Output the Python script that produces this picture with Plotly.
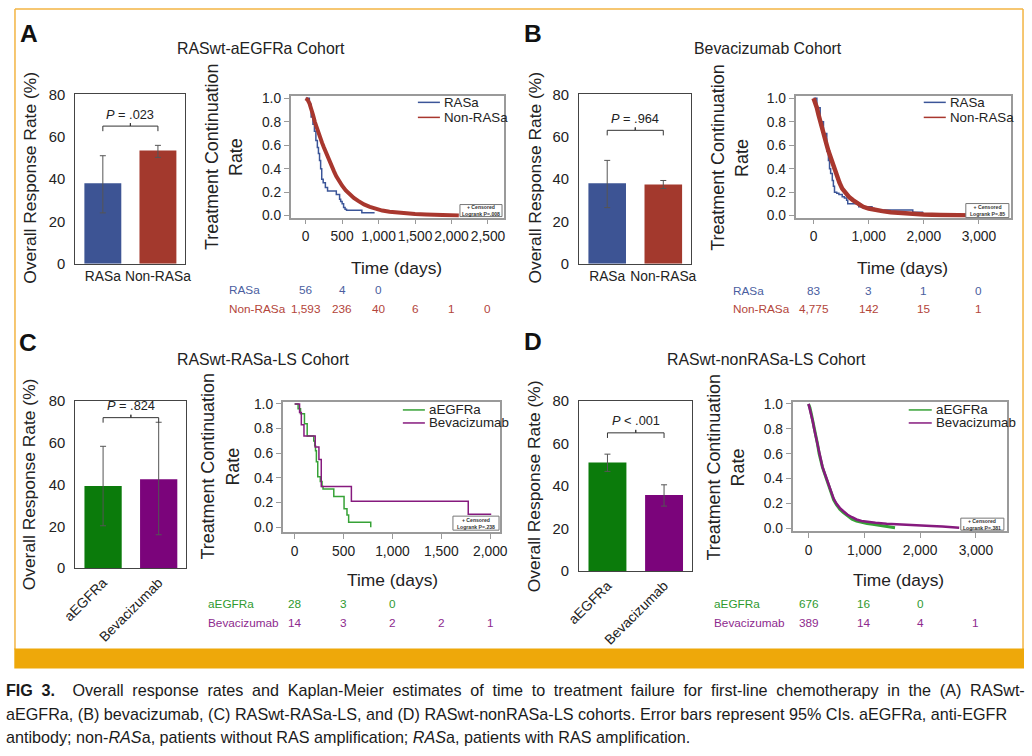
import plotly.graph_objects as go

# Positions below are given in pixels of the final 1032x756 picture.
# The rendered page shows the figure shifted by the 8px body margin and scaled
# slightly, so pixel positions are mapped back through that transform.
FW, FH = 1032, 756
MARGIN = 8
S = 0.977
DX, DY = 7.0, 0.0
FONT = "Liberation Sans, Arial, sans-serif"


def X(p):
    return ((p - DX) / S - MARGIN) / FW


def Y(p):
    return 1 - ((p - DY) / S - MARGIN) / FH


def clampx(v):
    return min(max(v, 1.0 / FW), 1 - 1.0 / FW)


def clampy(v):
    return min(max(v, 1.0 / FH), 1 - 1.0 / FH)


def fs(size):
    return round(size / S, 2)


# ====================== DATA ======================
# ---- Panel A : RASwt-aEGFRa cohort ----
a_title = "RASwt-aEGFRa Cohort"
a_cats = ["RASa", "Non-RASa"]
a_orr = [38.0, 53.5]
a_ci_lo = [24.0, 50.2]
a_ci_hi = [51.0, 55.9]
a_p = "<i>P</i> = .023"
a_bracket = 65.0
a_km1_t = [0, 50, 75, 100, 120, 140, 160, 175, 190, 205, 220, 240, 270, 300, 420, 465, 480, 500, 520, 540, 560, 750, 770, 945]
a_km1_s = [1.0, 0.95, 0.84, 0.78, 0.72, 0.64, 0.58, 0.53, 0.47, 0.40, 0.31, 0.28, 0.24, 0.21, 0.18, 0.14, 0.12, 0.10, 0.07, 0.055, 0.045, 0.045, 0.025, 0.025]
a_km2_t = [0, 25, 50, 75, 100, 125, 150, 175, 200, 225, 250, 275, 300, 330, 360, 390, 420, 460, 500, 550, 600, 660, 720, 800, 880, 960, 1050, 1150, 1250, 1380, 1500, 1650, 1800, 1950, 2100]
a_km2_s = [1.0, 0.99, 0.96, 0.92, 0.86, 0.80, 0.75, 0.70, 0.66, 0.62, 0.58, 0.54, 0.50, 0.455, 0.415, 0.375, 0.335, 0.29, 0.255, 0.215, 0.185, 0.15, 0.125, 0.095, 0.075, 0.058, 0.043, 0.033, 0.026, 0.02, 0.014, 0.009, 0.006, 0.003, 0.0]
a_ticks = [0, 500, 1000, 1500, 2000, 2500]
a_risk1 = ["56", "4", "0"]
a_risk2 = ["1,593", "236", "40", "6", "1", "0"]
a_logrank = "Logrank P=.008"

# ---- Panel B : Bevacizumab cohort ----
b_title = "Bevacizumab Cohort"
b_cats = ["RASa", "Non-RASa"]
b_orr = [38.0, 37.4]
b_ci_lo = [26.5, 35.5]
b_ci_hi = [48.8, 39.3]
b_p = "<i>P</i> = .964"
b_bracket = 63.0
b_km1_t = [0, 60, 120, 180, 240, 270, 290, 310, 340, 360, 380, 420, 460, 520, 560, 600, 620, 800, 820, 1040, 1060, 1100, 1780, 1800, 1990]
b_km1_s = [1.0, 0.92, 0.80, 0.70, 0.55, 0.47, 0.40, 0.36, 0.30, 0.25, 0.20, 0.19, 0.18, 0.16, 0.15, 0.13, 0.10, 0.095, 0.075, 0.075, 0.06, 0.048, 0.048, 0.028, 0.028]
b_km2_t = [0, 30, 60, 90, 120, 150, 180, 210, 240, 270, 300, 340, 380, 420, 470, 520, 580, 650, 720, 800, 900, 1000, 1100, 1250, 1400, 1600, 1800, 2000, 2300, 2600, 2950]
b_km2_s = [1.0, 0.97, 0.92, 0.86, 0.80, 0.76, 0.70, 0.65, 0.60, 0.55, 0.51, 0.45, 0.39, 0.33, 0.28, 0.23, 0.19, 0.155, 0.13, 0.105, 0.075, 0.06, 0.048, 0.038, 0.028, 0.02, 0.014, 0.01, 0.006, 0.003, 0.0]
b_ticks = [0, 1000, 2000, 3000]
b_risk1 = ["83", "3", "1", "0"]
b_risk2 = ["4,775", "142", "15", "1"]
b_logrank = "Logrank P=.85"

# ---- Panel C : RASwt-RASa-LS cohort ----
c_title = "RASwt-RASa-LS Cohort"
c_cats = ["aEGFRa", "Bevacizumab"]
c_orr = [39.3, 42.6]
c_ci_lo = [20.3, 16.0]
c_ci_hi = [58.3, 69.8]
c_p = "<i>P</i> = .824"
c_bracket = 72.0
c_km1_t = [0, 35, 60, 100, 128, 195, 205, 213, 222, 236, 262, 280, 290, 392, 400, 495, 505, 535, 552, 777, 778]
c_km1_s = [1.0, 0.96, 0.92, 0.84, 0.74, 0.70, 0.66, 0.62, 0.53, 0.41, 0.37, 0.33, 0.31, 0.31, 0.25, 0.25, 0.15, 0.10, 0.04, 0.04, 0.0]
c_km2_t = [0, 50, 68, 95, 210, 248, 272, 580, 1775, 2010]
c_km2_s = [1.0, 0.93, 0.83, 0.74, 0.65, 0.55, 0.33, 0.21, 0.105, 0.105]
c_ticks = [0, 500, 1000, 1500, 2000]
c_risk1 = ["28", "3", "0"]
c_risk2 = ["14", "3", "2", "2", "1"]
c_logrank = "Logrank P=.238"

# ---- Panel D : RASwt-nonRASa-LS cohort ----
d_title = "RASwt-nonRASa-LS Cohort"
d_cats = ["aEGFRa", "Bevacizumab"]
d_orr = [51.1, 35.8]
d_ci_lo = [46.9, 30.6]
d_ci_hi = [55.0, 40.6]
d_p = "<i>P</i> < .001"
d_bracket = 65.0
d_km1_t = [0, 25, 50, 75, 100, 130, 160, 190, 220, 250, 280, 310, 350, 400, 450, 500, 560, 620, 700, 780, 860, 950, 1050, 1150, 1250, 1350, 1450, 1550]
d_km1_s = [1.0, 0.97, 0.92, 0.87, 0.81, 0.75, 0.68, 0.60, 0.54, 0.49, 0.45, 0.41, 0.36, 0.29, 0.23, 0.19, 0.155, 0.13, 0.10, 0.075, 0.06, 0.048, 0.04, 0.033, 0.025, 0.018, 0.011, 0.005]
d_km2_t = [0, 25, 50, 75, 100, 130, 160, 190, 220, 250, 280, 310, 350, 400, 450, 500, 560, 620, 700, 780, 860, 950, 1050, 1200, 1400, 1600, 1800, 2000, 2200, 2400, 2600, 2700]
d_km2_s = [1.0, 0.96, 0.91, 0.86, 0.80, 0.74, 0.67, 0.60, 0.545, 0.495, 0.455, 0.415, 0.365, 0.30, 0.24, 0.20, 0.165, 0.14, 0.11, 0.09, 0.072, 0.06, 0.052, 0.045, 0.038, 0.032, 0.027, 0.022, 0.019, 0.016, 0.008, 0.005]
d_ticks = [0, 1000, 2000, 3000]
d_risk1 = ["676", "16", "0"]
d_risk2 = ["389", "14", "4", "1"]
d_logrank = "Logrank P=.381"

caption_lines = [
    "<span style=\"word-spacing:4.2px\"><b>FIG 3.</b>  Overall response rates and Kaplan-Meier estimates of time to treatment failure for first-line chemotherapy in the (A) RASwt-</span>",
    "aEGFRa, (B) bevacizumab, (C) RASwt-RASa-LS, and (D) RASwt-nonRASa-LS cohorts. Error bars represent 95% CIs. aEGFRa, anti-EGFR",
    "antibody; non-<i>RAS</i>a, patients without RAS amplification; <i>RAS</i>a, patients with RAS amplification.",
]

# ====================== STYLE ======================
BLUE_BAR, RED_BAR = "#3D5494", "#A3392D"
GREEN_BAR, PURPLE_BAR = "#0B7B0B", "#7B047B"
BLUE_LN, RED_LN = "#3B5598", "#A8372E"
GREEN_LN, PURPLE_LN = "#36A236", "#861A7E"
BLUE_TX, RED_TX = "#4A5EA0", "#B3453A"
GREEN_TX, PURPLE_TX = "#2F9A2F", "#8E2A8E"
ORANGE = "#EEA80A"

fig = go.Figure()
ann = []
shp = []
layout_axes = {}


def axname(n):
    return ("x" if n == 1 else f"x{n}"), ("y" if n == 1 else f"y{n}")


def add_bar(n, cats, vals, lo, hi, colors, bracket, ptxt, bx, by, angle):
    xa, ya = axname(n)
    idx = list(range(len(cats)))
    fig.add_trace(go.Bar(
        x=idx, y=vals, width=0.67, marker=dict(color=colors, line=dict(width=0)),
        error_y=dict(type="data", symmetric=False,
                     array=[h - v for h, v in zip(hi, vals)],
                     arrayminus=[v - l for v, l in zip(vals, lo)],
                     color="#555555", thickness=1, width=3),
        xaxis=xa, yaxis=ya, showlegend=False, hoverinfo="skip"))
    # significance bracket between the two bars
    i0, i1 = idx[0], idx[-1]
    mid = (i0 + i1) / 2
    fig.add_trace(go.Scatter(
        x=[i0, i0, mid, mid, mid, i1, i1],
        y=[bracket - 2.4, bracket, bracket, bracket + 1.4, bracket, bracket, bracket - 2.4],
        mode="lines", line=dict(color="#333333", width=1),
        xaxis=xa, yaxis=ya, showlegend=False, hoverinfo="skip"))
    ann.append(dict(x=mid, y=bracket, xref=xa, yref=ya, yshift=12, text=ptxt,
                    showarrow=False, font=dict(size=fs(12.5), color="#222", family=FONT)))
    layout_axes["xaxis" if n == 1 else f"xaxis{n}"] = dict(
        domain=[X(bx[0]), X(bx[1])], range=[-0.5, 1.5], tickvals=idx, ticktext=cats,
        tickangle=angle, showline=True, mirror=True, linecolor="#444", linewidth=1.2,
        ticks="", showgrid=False, zeroline=False, anchor=ya,
        tickfont=dict(size=fs(13.5), color="#222", family=FONT))
    layout_axes["yaxis" if n == 1 else f"yaxis{n}"] = dict(
        domain=[Y(by[1]), Y(by[0])], range=[0, 80], tickvals=[0, 20, 40, 60, 80],
        showline=True, mirror=True, linecolor="#444", linewidth=1.2, ticks="",
        showgrid=False, zeroline=False, anchor=xa, ticklabelstandoff=6,
        tickfont=dict(size=fs(14.5), color="#222", family=FONT))


def add_km(n, curves, ticks, xr, yr, kx, ky):
    xa, ya = axname(n)
    for t, s, col, wd, shape in curves:
        fig.add_trace(go.Scatter(x=t, y=s, mode="lines",
                                 line=dict(shape=shape, color=col, width=wd),
                                 xaxis=xa, yaxis=ya, showlegend=False, hoverinfo="skip"))
    layout_axes["xaxis" if n == 1 else f"xaxis{n}"] = dict(
        domain=[X(kx[0]), X(kx[1])], range=xr, tickvals=ticks, tickformat=",d",
        tickangle=0, showline=True, mirror=True, linecolor="#9a9a9a", linewidth=1.6,
        ticks="outside", ticklen=5, tickcolor="#9a9a9a", showgrid=False, zeroline=False,
        anchor=ya, tickfont=dict(size=fs(13.5), color="#222", family=FONT))
    layout_axes["yaxis" if n == 1 else f"yaxis{n}"] = dict(
        domain=[Y(ky[1]), Y(ky[0])], range=yr, tickvals=[0, 0.2, 0.4, 0.6, 0.8, 1.0],
        tickformat=".1f", showline=True, mirror=True, linecolor="#9a9a9a", linewidth=1.6,
        ticks="outside", ticklen=5, tickcolor="#9a9a9a", showgrid=False, zeroline=False,
        anchor=xa, tickfont=dict(size=fs(13.5), color="#222", family=FONT))


def text(x, y, t, size, color="#222", xanchor="center", angle=0, bold=False, xref="paper"):
    ann.append(dict(x=x if xref != "paper" else X(x), y=Y(y), xref=xref, yref="paper",
                    text=f"<b>{t}</b>" if bold else t, showarrow=False, xanchor=xanchor,
                    yanchor="middle", textangle=angle,
                    font=dict(size=fs(size), color=color, family=FONT)))


def panel_text(letter, lpos, title, tpos, ytitle_pos, km_title_pos, time_pos):
    text(lpos[0], lpos[1], letter, 24, "#111", bold=True)
    text(tpos[0], tpos[1], title, 15.5, "#222")
    text(ytitle_pos[0], ytitle_pos[1], "Overall Response Rate (%)", 17, "#222", angle=-90)
    text(km_title_pos[0], km_title_pos[2], "Treatment Continuation", 17.5, "#222", angle=-90)
    text(km_title_pos[1], km_title_pos[2], "Rate", 17.5, "#222", angle=-90)
    text(time_pos[0], time_pos[1], "Time (days)", 17, "#222")


def legend(entries, x0, x1, ys):
    for (lab, col), yy in zip(entries, ys):
        shp.append(dict(type="line", xref="paper", yref="paper", x0=X(x0), x1=X(x1),
                        y0=Y(yy), y1=Y(yy), line=dict(color=col, width=1.5)))
        text(x1 + 2, yy, lab, 13, "#222", xanchor="left")


def risk_table(n, labels, rows, ticks, lx, ys, colors):
    xa, _ = axname(n)
    for lab, row, yy, col in zip(labels, rows, ys, colors):
        text(lx, yy, lab, 11.5, col, xanchor="left")
        for t, v in zip(ticks, row):
            text(t, yy, v, 11.5, col, xref=xa)


def logrank_box(x0, x1, y0, y1, txt):
    shp.append(dict(type="rect", xref="paper", yref="paper", x0=X(x0), x1=X(x1),
                    y0=Y(y1), y1=Y(y0), line=dict(color="#777", width=1), fillcolor="white"))
    ann.append(dict(x=X((x0 + x1) / 2), y=Y((y0 + y1) / 2), xref="paper", yref="paper",
                    text=f"<b>+ Censored</b><br><b>{txt}</b>", showarrow=False,
                    xanchor="center", yanchor="middle",
                    font=dict(size=fs(5), color="#333", family=FONT)))


# ----- Panel A -----
add_bar(1, a_cats, a_orr, a_ci_lo, a_ci_hi, [BLUE_BAR, RED_BAR], a_bracket, a_p, (76, 186), (94, 263), 0)
add_km(2, [(a_km1_t, a_km1_s, BLUE_LN, 1.5, "hv"), (a_km2_t, a_km2_s, RED_LN, 4, "linear")], a_ticks,
       [-206, 2720], [-0.017, 1.017], (291, 504), (96, 217))
panel_text("A", (30, 33), a_title, (261, 48), (30, 177), (213, 237, 157), (397, 267))
legend([("RASa", BLUE_LN), ("Non-RASa", RED_LN)], 418, 440, [102, 117])
risk_table(2, ["RASa", "Non-RASa"], [a_risk1, a_risk2], a_ticks, 227, [289, 308], [BLUE_TX, RED_TX])
logrank_box(460, 502, 204, 216, a_logrank)

# ----- Panel B -----
add_bar(3, b_cats, b_orr, b_ci_lo, b_ci_hi, [BLUE_BAR, RED_BAR], b_bracket, b_p, (579, 691), (94, 263), 0)
add_km(4, [(b_km1_t, b_km1_s, BLUE_LN, 1.5, "hv"), (b_km2_t, b_km2_s, RED_LN, 4.5, "linear")], b_ticks,
       [-327, 3580], [-0.017, 1.017], (795, 1010), (96, 217))
panel_text("B", (533, 33), b_title, (768, 48), (534, 177), (718, 742, 157), (902, 267))
legend([("RASa", BLUE_LN), ("Non-RASa", RED_LN)], 923, 945, [102, 117])
risk_table(4, ["RASa", "Non-RASa"], [b_risk1, b_risk2], b_ticks, 731, [290, 308], [BLUE_TX, RED_TX])
logrank_box(965, 1008, 203, 217, b_logrank)

# ----- Panel C -----
add_bar(5, c_cats, c_orr, c_ci_lo, c_ci_hi, [GREEN_BAR, PURPLE_BAR], c_bracket, c_p, (76, 187), (400, 567), -45)
add_km(6, [(c_km1_t, c_km1_s, GREEN_LN, 1.5, "hv"), (c_km2_t, c_km2_s, PURPLE_LN, 1.5, "hv")], c_ticks,
       [-123, 2100], [-0.04, 1.016], (283, 500), (401, 531))
panel_text("C", (29, 342), c_title, (263, 359), (30, 483), (209, 233, 466), (393, 579))
legend([("aEGFRa", GREEN_LN), ("Bevacizumab", PURPLE_LN)], 403, 425, [409, 422])
risk_table(6, ["aEGFRa", "Bevacizumab"], [c_risk1, c_risk2], c_ticks, 206, [602, 621], [GREEN_TX, PURPLE_TX])
logrank_box(453, 499, 515, 529, c_logrank)

# ----- Panel D -----
add_bar(7, d_cats, d_orr, d_ci_lo, d_ci_hi, [GREEN_BAR, PURPLE_BAR], d_bracket, d_p, (579, 692), (400, 570), -45)
add_km(8, [(d_km1_t, d_km1_s, GREEN_LN, 3, "linear"), (d_km2_t, d_km2_s, PURPLE_LN, 2.5, "linear")], d_ticks,
       [-287, 3555], [-0.022, 1.016], (792, 1006), (401, 530))
panel_text("D", (533, 341), d_title, (766, 359), (534, 485), (714, 738, 466), (898, 579))
legend([("aEGFRa", GREEN_LN), ("Bevacizumab", PURPLE_LN)], 908, 931, [409, 422])
risk_table(8, ["aEGFRa", "Bevacizumab"], [d_risk1, d_risk2], d_ticks, 712, [602, 621], [GREEN_TX, PURPLE_TX])
logrank_box(960, 1003, 517, 529, d_logrank)

# ----- frame and caption -----
fl, fr = clampx(X(4)), clampx(X(1024))
ft, fb = clampy(Y(4)), Y(648)
shp.append(dict(type="line", xref="paper", yref="paper", x0=fl, x1=fr, y0=ft, y1=ft,
                line=dict(color="#F3B443", width=1.5)))
shp.append(dict(type="line", xref="paper", yref="paper", x0=fl, x1=fl, y0=ft, y1=fb,
                line=dict(color="#F3B443", width=1.5)))
shp.append(dict(type="line", xref="paper", yref="paper", x0=fr, x1=fr, y0=ft, y1=fb,
                line=dict(color="#F3B443", width=1.5)))
shp.append(dict(type="rect", xref="paper", yref="paper", x0=fl - 0.7 / FW, x1=min(X(1025), 1.0),
                y0=Y(667), y1=Y(647), line=dict(width=0), fillcolor=ORANGE))
for line_txt, yy in zip(caption_lines, [689, 712, 735]):
    text(5, yy, line_txt, 15.8, "#1a1a1a", xanchor="left")

fig.update_layout(
    width=FW, height=FH, margin=dict(l=0, r=0, t=0, b=0),
    paper_bgcolor="white", plot_bgcolor="white",
    font=dict(family=FONT, color="#222"),
    annotations=ann, shapes=shp, showlegend=False, bargap=0.3,
    **layout_axes)

fig.write_html("out.html")
